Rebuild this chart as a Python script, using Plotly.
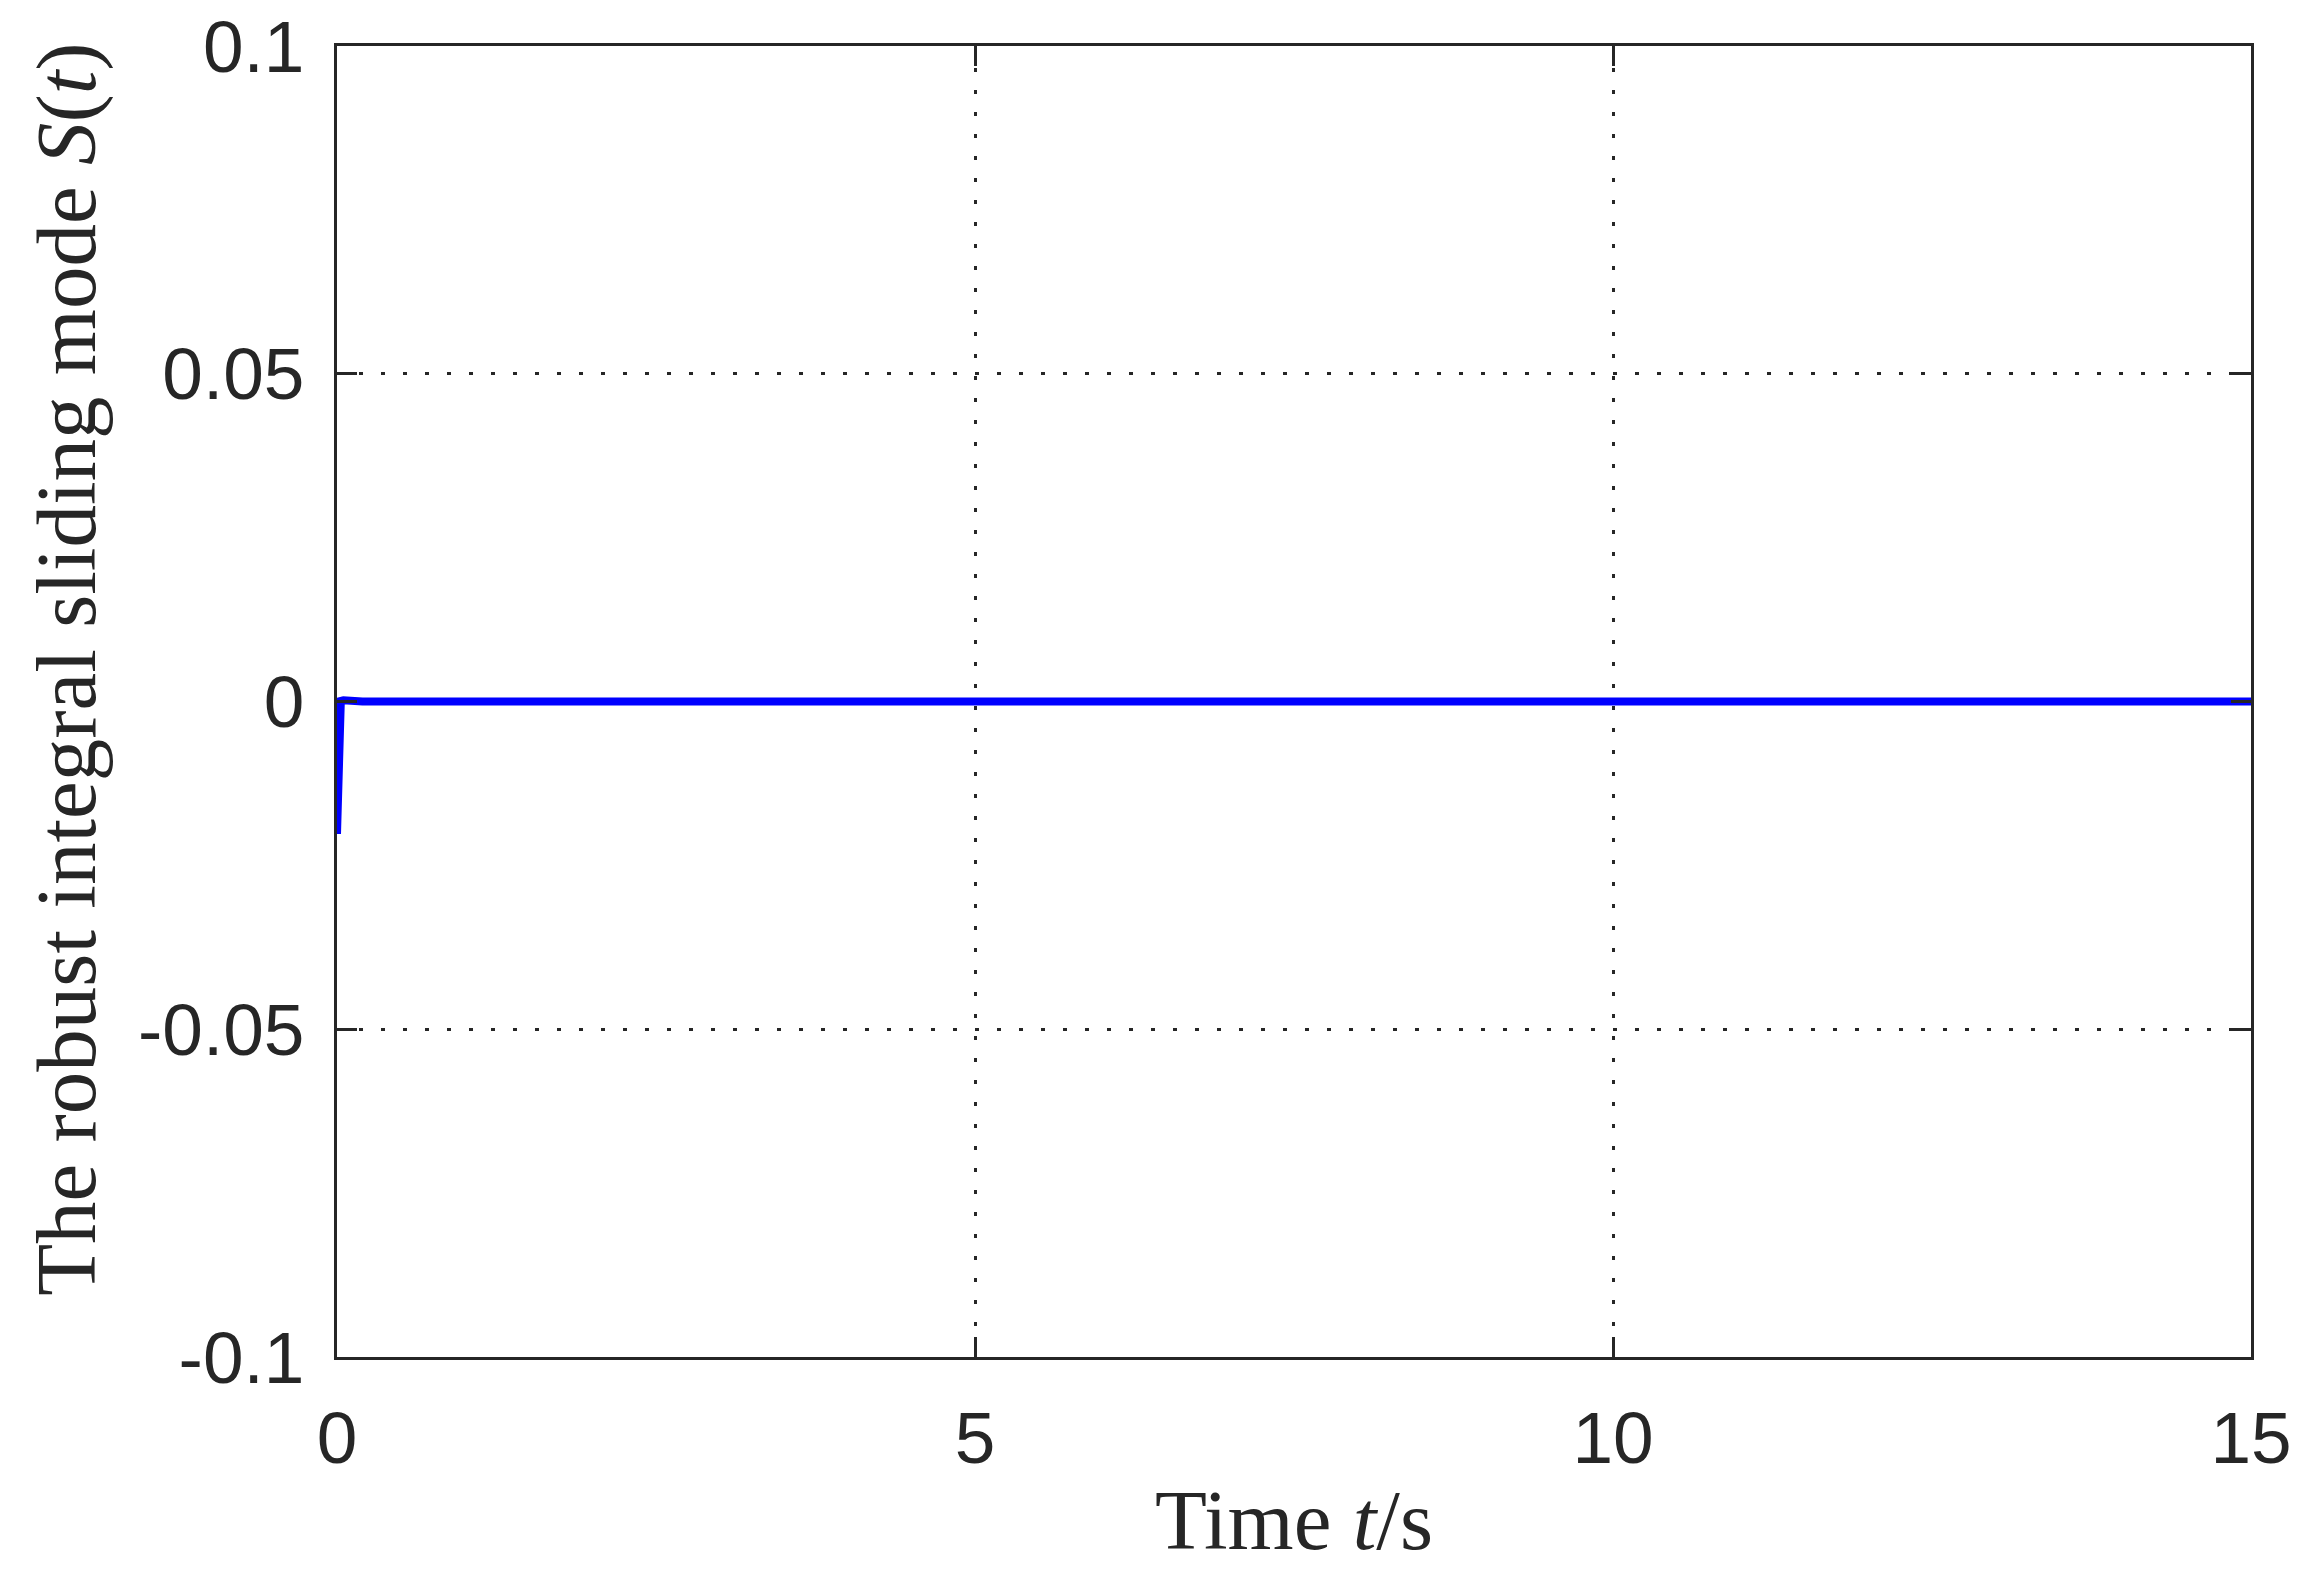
import plotly.graph_objects as go

# Sliding mode S(t)
time_s = [0, 0.005, 0.01, 0.015, 0.02, 0.03, 0.05, 0.1, 0.2, 0.5, 1, 2, 3, 4, 5, 6, 7, 8, 9, 10, 11, 12, 13, 14, 15]
s_val = [-0.0202, -0.016, -0.009, -0.003, -0.0006, 0.0001, 0.0002, 0.0001, 0.0, 0.0, 0.0, 0.0, 0.0, 0.0, 0.0,
         0.0, 0.0, 0.0, 0.0, 0.0, 0.0, 0.0, 0.0, 0.0, 0.0]

x_ticks = [0, 5, 10, 15]
y_ticks = [-0.1, -0.05, 0, 0.05, 0.1]
y_tick_text = ["-0.1", "-0.05", "0", "0.05", "0.1"]

ink = "#262626"

fig = go.Figure()
fig.add_trace(go.Scatter(
    x=time_s, y=s_val, mode="lines",
    line=dict(color="#0000ff", width=8),
    showlegend=False,
))

axis_common = dict(
    showline=True, linecolor=ink, linewidth=3, mirror="ticks",
    ticks="inside", ticklen=20, tickwidth=3, tickcolor=ink,
    showgrid=True, gridcolor=ink, gridwidth=3, griddash="4px,18px",
    zeroline=False, ticklabeloverflow="allow", automargin=False,
    tickfont=dict(family="Liberation Sans, Arial", size=73, color=ink),
)

fig.update_xaxes(range=[0, 15], tickvals=x_ticks, ticklabelstandoff=15, **axis_common)
fig.update_yaxes(range=[-0.1, 0.1], tickvals=y_ticks, ticktext=y_tick_text, ticklabelstandoff=15, **axis_common)

title_font = dict(family="Liberation Serif, Times New Roman, serif", size=85, color=ink)
fig.add_annotation(
    text="Time <i>t</i>/s", xref="paper", yref="paper", x=0.5, y=-0.124,
    xanchor="center", yanchor="middle", showarrow=False, font=title_font,
)
fig.add_annotation(
    text="The robust integral sliding mode <i>S</i>(<i>t</i>)", xref="paper", yref="paper",
    x=-0.141, y=0.525, textangle=-90, xanchor="center", yanchor="middle",
    showarrow=False, font=title_font,
)

# page body adds an 8px offset, so the figure is drawn slightly smaller
fig.update_layout(
    width=2302, height=1580,
    margin=dict(l=329, r=59, t=38, b=231),
    plot_bgcolor="white", paper_bgcolor="white",
)

fig.write_html("out.html")
